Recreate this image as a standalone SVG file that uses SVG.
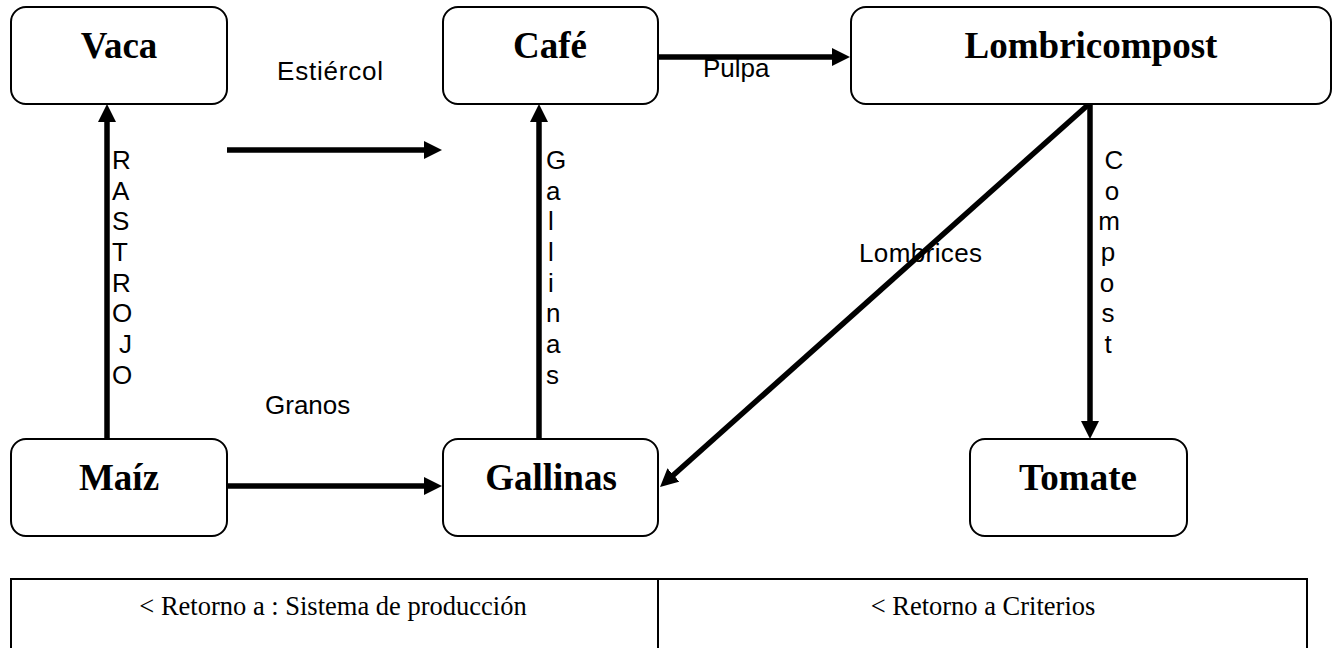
<svg xmlns="http://www.w3.org/2000/svg" width="1335" height="648" viewBox="0 0 1335 648">
<style>
.box{fill:#fff;stroke:#000;stroke-width:2}
.title{font-family:"Liberation Serif","Times New Roman",serif;font-weight:bold;font-size:37px;text-anchor:middle;fill:#000}
.lbl{font-family:"Liberation Sans",Arial,sans-serif;font-size:26px;fill:#000}
.conn{stroke:#000;stroke-width:5.5;fill:none}
.foot{font-family:"Liberation Serif","Times New Roman",serif;font-size:26.5px;text-anchor:middle;fill:#000}
</style>
<defs>
<marker id="ah" markerUnits="userSpaceOnUse" markerWidth="18" markerHeight="18" refX="6" refY="9" orient="auto">
<path d="M0,0 L18,9 L0,18 z" fill="#000"/>
</marker>
</defs>
<rect width="1335" height="648" fill="#fff"/>
<g id="connectors">
<line class="conn" x1="107" y1="439" x2="107" y2="116" marker-end="url(#ah)"/>
<line class="conn" x1="227" y1="150" x2="430" y2="150" marker-end="url(#ah)"/>
<line class="conn" x1="658" y1="57" x2="838" y2="57" marker-end="url(#ah)"/>
<line class="conn" x1="539" y1="439" x2="539" y2="116" marker-end="url(#ah)"/>
<line class="conn" x1="227" y1="486" x2="430" y2="486" marker-end="url(#ah)"/>
<line class="conn" x1="1090" y1="104" x2="1090" y2="427" marker-end="url(#ah)"/>
<line class="conn" x1="1089" y1="104" x2="669" y2="479" marker-end="url(#ah)"/>
</g>
<g id="labels">
<text class="lbl" x="277" y="80" textLength="106">Estiércol</text>
<text class="lbl" x="703" y="77">Pulpa</text>
<text class="lbl" x="265" y="414">Granos</text>
<text class="lbl" x="859" y="262" textLength="123">Lombrices</text>
<g id="rastrojo" class="lbl">
<text x="112" y="169">R</text>
<text x="112" y="200">A</text>
<text x="112" y="230">S</text>
<text x="112" y="261">T</text>
<text x="112" y="292">R</text>
<text x="112" y="322">O</text>
<text x="119" y="353">J</text>
<text x="112" y="384">O</text>
</g>
<g id="gallinas-lbl" class="lbl">
<text x="546" y="169">G</text>
<text x="546" y="200">a</text>
<text x="548" y="230">l</text>
<text x="548" y="261">l</text>
<text x="548" y="292">i</text>
<text x="546" y="322">n</text>
<text x="546" y="353">a</text>
<text x="546" y="384">s</text>
</g>
<g id="compost-lbl" class="lbl" text-anchor="middle">
<text x="1114" y="169">C</text>
<text x="1112" y="200">o</text>
<text x="1109" y="230">m</text>
<text x="1108" y="261">p</text>
<text x="1107" y="292">o</text>
<text x="1108" y="322">s</text>
<text x="1108" y="353">t</text>
</g>
</g>
<g id="vaca"><rect class="box" x="11" y="7" width="216" height="97" rx="15"/><text class="title" x="119" y="58">Vaca</text></g>
<g id="cafe"><rect class="box" x="443" y="7" width="215" height="97" rx="15"/><text class="title" x="550" y="58">Café</text></g>
<g id="lombricompost"><rect class="box" x="851" y="7" width="480" height="97" rx="15"/><text class="title" x="1091" y="58">Lombricompost</text></g>
<g id="maiz"><rect class="box" x="11" y="439" width="216" height="97" rx="15"/><text class="title" x="119" y="490">Maíz</text></g>
<g id="gallinas"><rect class="box" x="443" y="439" width="215" height="97" rx="15"/><text class="title" x="551" y="490">Gallinas</text></g>
<g id="tomate"><rect class="box" x="970" y="439" width="217" height="97" rx="15"/><text class="title" x="1078" y="490">Tomate</text></g>
<g id="footer">
<rect x="11" y="579" width="1296" height="90" fill="#fff" stroke="#000" stroke-width="2"/>
<line x1="658" y1="579" x2="658" y2="648" stroke="#000" stroke-width="2"/>
<text class="foot" x="333" y="615">&lt; Retorno a : Sistema de producción</text>
<text class="foot" x="983" y="615">&lt; Retorno a Criterios</text>
</g>
</svg>
